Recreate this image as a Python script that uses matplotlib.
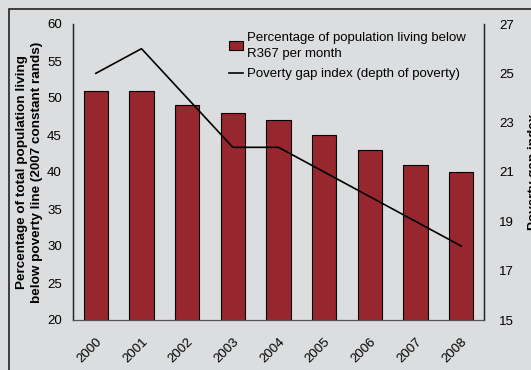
import matplotlib.pyplot as plt
from matplotlib.patches import Rectangle
import numpy as np

plt.rcParams['font.family'] = ['Liberation Sans', 'DejaVu Sans']

years = ["2000", "2001", "2002", "2003", "2004", "2005", "2006", "2007", "2008"]
pct_below_line = [51, 51, 49, 48, 47, 45, 43, 41, 40]
poverty_gap = [25, 26, 24, 22, 22, 21, 20, 19, 18]

BG = "#dcdddf"
BAR = "#98262e"

fig = plt.figure(figsize=(5.31, 3.70), dpi=100, facecolor=BG)
ax = fig.add_axes([73 / 531, 1 - 320 / 370, 411 / 531, 296 / 370])
ax.set_facecolor(BG)

# outer frame of the panel
fig.add_artist(Rectangle((9 / 531, -0.1), 1.2, 1 - 9 / 370 + 0.1,
                         transform=fig.transFigure, fill=False,
                         edgecolor="#222222", linewidth=1.2))

x = np.arange(len(years))
ax.bar(x, pct_below_line, width=0.53, bottom=0, color=BAR,
       edgecolor="black", linewidth=0.8,
       label="Percentage of population living below\nR367 per month")
ax.set_ylim(20, 60)
ax.set_xlim(-0.5, len(years) - 0.5)
ax.set_yticks(range(20, 61, 5))
ax.set_xticks(x)
ax.set_xticklabels(years, rotation=45, ha="right", rotation_mode="anchor")
ax.tick_params(length=0, labelsize=9.5, pad=8)
ax.tick_params(axis="x", pad=11)

ax2 = ax.twinx()
ax2.plot(x, poverty_gap, color="black", linewidth=1.2,
         label="Poverty gap index (depth of poverty)")
ax2.set_ylim(15, 27)
ax2.set_yticks(range(15, 28, 2))
ax2.tick_params(length=0, labelsize=9.5, pad=11)

for a in (ax, ax2):
    a.spines["top"].set_visible(False)
    a.spines["left"].set_color("#222222")
    a.spines["right"].set_color("#222222")
    a.spines["bottom"].set_color("#555555")
    a.spines["left"].set_linewidth(0.9)
    a.spines["right"].set_linewidth(0.9)

ax.set_ylabel("Percentage of total population living\nbelow poverty line (2007 constant rands)",
              fontsize=9.7, fontweight="bold", labelpad=3, linespacing=1.3)
ax2.set_ylabel("Poverty gap index", fontsize=9.7, fontweight="bold", labelpad=10)

h1, l1 = ax.get_legend_handles_labels()
h2, l2 = ax2.get_legend_handles_labels()
leg = ax.legend(h1 + h2, l1 + l2, loc="upper left", bbox_to_anchor=(0.36, 1.0),
                frameon=False, fontsize=9.5, handlelength=1.1, handletextpad=0.3,
                borderaxespad=0.2, labelspacing=0.6)
for t in leg.get_texts():
    t.set_linespacing(1.45)

fig.savefig("out.png", dpi=100, facecolor=BG)
